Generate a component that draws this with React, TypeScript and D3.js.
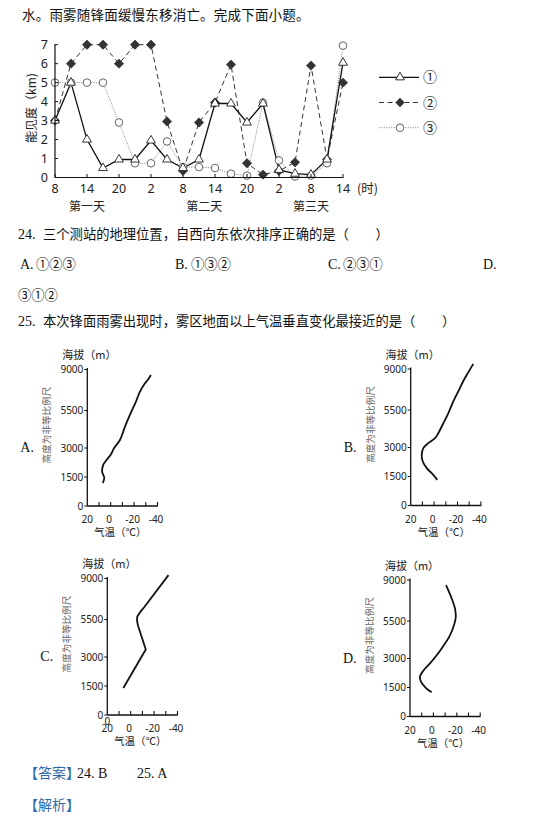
import React from "react";
import * as d3 from "d3";

// ---------- main chart data ----------
const HOURS = [0, 3, 6, 9, 12, 15, 18, 21, 24, 27, 30, 33, 36, 39, 42, 45, 48, 51, 54];
const HOUR_TICKS = [0, 6, 12, 18, 24, 30, 36, 42, 48, 54];
const HOUR_LABELS = ["8", "14", "20", "2", "8", "14", "20", "2", "8", "14"];
const VIS_TICKS = [0, 1, 2, 3, 4, 5, 6, 7];
const DAY_LABELS = ["第一天", "第二天", "第三天"];
const DAY_POS = [6, 28, 48];
const S1 = [3, 5, 2, 0.5, 0.95, 0.95, 1.95, 0.95, 0.5, 0.95, 3.9, 3.9, 2.9, 3.9, 0.4, 0.2, 0.15, 0.95, 6.05];
const S2 = [3, 6, 7, 7, 6, 7, 7, 2.95, 0.35, 2.9, 3.95, 5.95, 0.75, 0.15, 0.35, 0.8, 5.9, 0.95, 5];
const S3 = [5, 5, 5, 5, 2.9, 0.75, 0.75, 1.9, 0.55, 0.55, 0.5, 0.2, 0.1, 3.95, 0.9, 0.05, 0.1, 0.75, 6.95];
const LEGEND = ["①", "②", "③"];

// ---------- small charts data ----------
const ALT_TICKS = [0, 1500, 3000, 5500, 9000];
const TEMP_TICKS = [10, 0, -10, -20, -30, -40];
const TEMP_LABELS = [20, 0, -20, -40];
const A_T = [6.8, 5.5, 7.4, 6.3, 3.4, 0, -2.8, -7.9, -12.2, -17.1, -21.6, -25.0, -29.3, -32.1, -34.4];
const A_H = [1190, 1450, 1790, 2136, 2395, 2653, 2985, 3536, 4428, 5326, 6265, 7114, 7828, 8168, 8533, 9100].slice(0, 15);
const B_T = [-2.7, 0.7, 6.3, 9.7, 10.6, 9.2, 5.0, -0.8, -3.6, -7.9, -12.1, -16.4, -20.7, -25.0, -29.2, -33.5];
const B_H = [1327, 1588, 1934, 2276, 2622, 2969, 3292, 3623, 3955, 4618, 5281, 6226, 7101, 7976, 8711, 9437];
const C_T = [6.3, -12.9, -6.2, -5.4, -5.6, -8.2, -11.5, -32.3];
const C_H = [1400, 3500, 5100, 5450, 5750, 6150, 6550, 9290];
const D_T = [1.5, 6.3, 10.6, 11.5, 8.6, 2.9, -2.8, -8.5, -13.6, -17.0, -19.1, -18.5, -15.6, -10.8];
const D_H = [1256, 1466, 1807, 2063, 2370, 2744, 3212, 3838, 4463, 5088, 5802, 6539, 7428, 8556];

const CJK = "'Noto Sans CJK SC', 'Noto Sans', sans-serif";
const SERIF = "'Liberation Serif', 'DejaVu Serif', serif";
const NUM = "'Noto Sans', 'Open Sans', sans-serif";

function MainChart() {
  const x = d3.scaleLinear().domain([0, 54]).range([55, 343]);
  const y = d3.scaleLinear().domain([0, 7]).range([177.5, 44.7]);
  const line = d3.line<number>().x((_, i) => x(HOURS[i])).y((d) => y(d));
  const tri = d3.symbol().type(d3.symbolTriangle).size(34)();
  const dia = d3.symbol().type(d3.symbolSquare).size(44)();
  return (
    <g>
      {/* series lines */}
      <path d={line(S3) || ""} fill="none" stroke="#8a8a8a" strokeWidth={0.9} strokeDasharray="1.2,1.2" />
      <path d={line(S2) || ""} fill="none" stroke="#333" strokeWidth={1} strokeDasharray="5,3.5" />
      <path d={line(S1) || ""} fill="none" stroke="#111" strokeWidth={1.3} />
      {S2.map((v, i) => (
        <path key={"d" + i} d={dia} transform={`translate(${x(HOURS[i])},${y(v)}) rotate(45)`} fill="#333" stroke="#222" strokeWidth={0.5} />
      ))}
      {S3.map((v, i) => (
        <circle key={"c" + i} cx={x(HOURS[i])} cy={y(v)} r={3.8} fill="#fff" stroke="#555" strokeWidth={0.9} />
      ))}
      {S1.map((v, i) => (
        <path key={"t" + i} d={tri} transform={`translate(${x(HOURS[i])},${y(v)})`} fill="#fff" stroke="#222" strokeWidth={0.9} />
      ))}
      {/* axes */}
      <line x1={55} x2={55} y1={177.5} y2={44} stroke="#111" strokeWidth={1.2} />
      <line x1={55} x2={343.5} y1={177.5} y2={177.5} stroke="#111" strokeWidth={1.2} />
      {VIS_TICKS.map((t) => (
        <g key={"vy" + t}>
          <line x1={55} x2={58} y1={y(t)} y2={y(t)} stroke="#111" />
          <text x={48} y={y(t) + 4.3} textAnchor="end" fontSize={12.5} fontFamily={NUM} fill="#222">{t}</text>
        </g>
      ))}
      {HOUR_TICKS.map((h, i) => (
        <g key={"hx" + i}>
          <line x1={x(h)} x2={x(h)} y1={177.5} y2={174} stroke="#111" />
          <text x={x(h)} y={192.5} textAnchor="middle" fontSize={12.5} fontFamily={NUM} fill="#222">{HOUR_LABELS[i]}</text>
        </g>
      ))}
      <text x={357} y={192.5} fontSize={12.5} fontFamily={CJK} fill="#222">(时)</text>
      {DAY_LABELS.map((d, i) => (
        <text key={d} x={x(DAY_POS[i])} y={211} textAnchor="middle" fontSize={12} fontFamily={CJK} fill="#222">{d}</text>
      ))}
      <text transform="translate(35.5,108) rotate(-90)" textAnchor="middle" fontSize={12} fontFamily={CJK} fill="#222">能见度（km)</text>
      {/* legend */}
      {LEGEND.map((l, i) => {
        const ly = 77.3 + i * 25.2;
        return (
          <g key={l}>
            <line x1={379} x2={419} y1={ly} y2={ly} stroke={i === 0 ? "#111" : i === 1 ? "#333" : "#8a8a8a"} strokeWidth={i === 0 ? 1.3 : i === 1 ? 1 : 0.9} strokeDasharray={i === 0 ? undefined : i === 1 ? "5,3.5" : "1.2,1.2"} />
            {i === 0 && <path d={tri} transform={`translate(400,${ly})`} fill="#fff" stroke="#222" strokeWidth={0.9} />}
            {i === 1 && <path d={dia} transform={`translate(400,${ly}) rotate(45)`} fill="#333" />}
            {i === 2 && <circle cx={400} cy={ly} r={3.8} fill="#fff" stroke="#555" strokeWidth={0.9} />}
            <text x={423} y={ly + 5} fontSize={14} fontFamily={CJK} fill="#222">{l}</text>
          </g>
        );
      })}
    </g>
  );
}

function Profile({ ox, oy, T, H, letter, curve, extraZero }: any) {
  const yS = d3.scaleLinear().domain(ALT_TICKS).range([oy, oy - 29, oy - 58, oy - 95.5, oy - 136.5]);
  const xS = d3.scaleLinear().domain([20, -40]).range([ox, ox + 70.2]);
  const pts = T.map((t: number, i: number) => [t, H[i]] as [number, number]);
  const line = d3.line<[number, number]>().x((d) => xS(d[0])).y((d) => yS(d[1])).curve(curve);
  return (
    <g>
      <text x={ox + 2} y={oy - 147} textAnchor="middle" fontSize={11} fontFamily={CJK} fill="#222">海拔（m）</text>
      <line x1={ox} x2={ox} y1={oy} y2={oy - 138} stroke="#111" strokeWidth={1.3} />
      <line x1={ox} x2={ox + 70.5} y1={oy} y2={oy} stroke="#111" strokeWidth={1.3} />
      {ALT_TICKS.map((a) => (
        <g key={a}>
          <line x1={ox - 3} x2={ox} y1={yS(a)} y2={yS(a)} stroke="#111" />
          <text x={ox - 4} y={yS(a) + 3.6} textAnchor="end" fontSize={10} fontFamily={NUM} fill="#222">{a}</text>
        </g>
      ))}
      {TEMP_TICKS.map((t) => (
        <line key={t} x1={xS(t)} x2={xS(t)} y1={oy} y2={oy - 4} stroke="#111" strokeWidth={1.1} />
      ))}
      {TEMP_LABELS.map((t) => (
        <text key={t} x={xS(t) - (t < 0 ? 1.5 : t === 0 ? 1.5 : 0)} y={oy + 17} textAnchor="middle" fontSize={10} fontFamily={NUM} fill="#222">{t}</text>
      ))}
      {extraZero && <text x={ox} y={oy + 10} textAnchor="middle" fontSize={10} fontFamily={NUM} fill="#222">0</text>}
      <text x={ox + 33} y={oy + 30} textAnchor="middle" fontSize={10.5} fontFamily={CJK} fill="#222">气温（℃）</text>
      <text transform={`translate(${ox - 37},${oy - 81}) rotate(-90)`} textAnchor="middle" fontSize={9.6} fontFamily={CJK} fill="#666">高度为非等比例尺</text>
      <text x={ox - 67} y={oy - 54} fontSize={14} fontFamily={SERIF} fill="#111">{letter}</text>
      <path d={line(pts) || ""} fill="none" stroke="#111" strokeWidth={1.8} strokeLinejoin="round" />
    </g>
  );
}

export default function App() {
  return (
    <svg width={551} height={816} style={{ position: "absolute", left: 0, top: 0, background: "#fff" }}>
      <rect width={551} height={816} fill="#fff" />
      <text x={22} y={20} fontSize={13.5} letterSpacing={0.2} fontFamily={CJK} fill="#111">水。雨雾随锋面缓慢东移消亡。完成下面小题。</text>
      <MainChart />
      <text x={18} y={239} fontSize={14} fontFamily={SERIF} fill="#111">24.</text>
      <text x={43} y={239} fontSize={13.3} fontFamily={CJK} fill="#111">三个测站的地理位置，自西向东依次排序正确的是（　　）</text>
      <text x={20} y={269} fontSize={14} fontFamily={SERIF} fill="#111">A.</text>
      <text x={36} y={269} fontSize={13.3} fontFamily={CJK} fill="#111">①②③</text>
      <text x={175} y={269} fontSize={14} fontFamily={SERIF} fill="#111">B.</text>
      <text x={191} y={269} fontSize={13.3} fontFamily={CJK} fill="#111">①③②</text>
      <text x={328} y={269} fontSize={14} fontFamily={SERIF} fill="#111">C.</text>
      <text x={343} y={269} fontSize={13.3} fontFamily={CJK} fill="#111">②③①</text>
      <text x={483} y={269} fontSize={14} fontFamily={SERIF} fill="#111">D.</text>
      <text x={18} y={300} fontSize={13.3} fontFamily={CJK} fill="#111">③①②</text>
      <text x={18} y={326} fontSize={14} fontFamily={SERIF} fill="#111">25.</text>
      <text x={43} y={326} fontSize={13.3} fontFamily={CJK} fill="#111">本次锋面雨雾出现时，雾区地面以上气温垂直变化最接近的是（　　）</text>
      <Profile ox={87.3} oy={506} T={A_T} H={A_H} letter="A." curve={d3.curveCatmullRom} />
      <Profile ox={410.7} oy={505.5} T={B_T} H={B_H} letter="B." curve={d3.curveCatmullRom} />
      <Profile ox={107.3} oy={715} T={C_T} H={C_H} letter="C." curve={d3.curveLinear} extraZero />
      <Profile ox={410} oy={716.5} T={D_T} H={D_H} letter="D." curve={d3.curveCatmullRom} />
      <text x={24} y={778} fontSize={14} fontFamily={CJK} fill="#2f6aa8">【答案】</text>
      <text x={77} y={778} fontSize={14} fontFamily={SERIF} fill="#111">24. B</text>
      <text x={137} y={778} fontSize={14} fontFamily={SERIF} fill="#111">25. A</text>
      <text x={24} y={810} fontSize={14} fontFamily={CJK} fill="#2f6aa8">【解析】</text>
    </svg>
  );
}
